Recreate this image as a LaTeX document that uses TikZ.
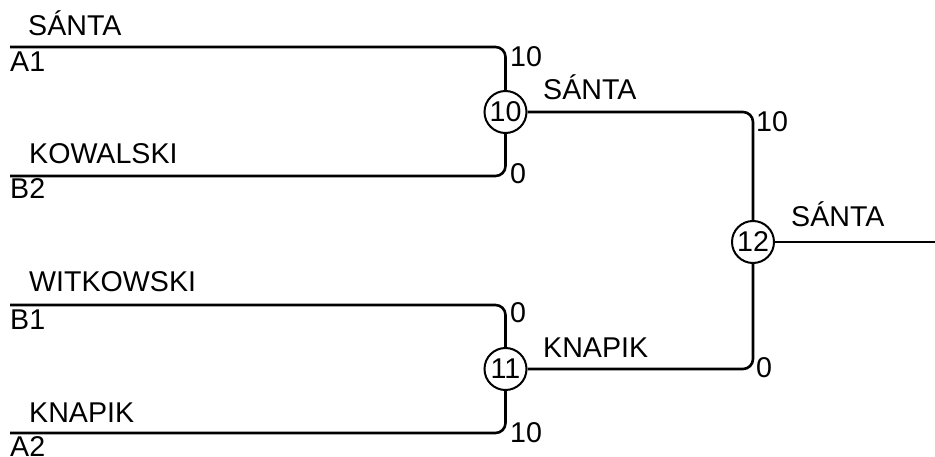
\documentclass[tikz,border=0pt]{standalone}
\usepackage{fontspec}
\setmainfont{Liberation Sans}
\begin{document}
\begin{tikzpicture}[x=1pt,y=-1pt,
  wire/.style={line width=2.6pt,rounded corners=10pt},
  lbl/.style={anchor=base west,inner sep=0pt,font=\fontsize{28.6}{33}\selectfont},
  match/.style={circle,draw,line width=2pt,minimum size=42pt,inner sep=0pt,fill=white,font=\fontsize{28.6}{33}\selectfont}]
\useasboundingbox (0,0) rectangle (935,457);
% match circles
\node[match] (c10) at (505.5,112) {10};
\node[match] (c11) at (505.5,369) {11};
\node[match] (c12) at (753,242) {12};
% line start points
\coordinate (a1) at (10,47);
\coordinate (b2) at (10,176);
\coordinate (b1) at (10,305);
\coordinate (a2) at (10,433);
\coordinate (out) at (935,242);
% wires
\draw[wire] (a1) -| (c10.north);
\draw[wire] (b2) -| (c10.south);
\draw[wire] (b1) -| (c11.north);
\draw[wire] (a2) -| (c11.south);
\draw[wire] (c10.east) -| (c12.north);
\draw[wire] (c11.east) -| (c12.south);
\draw[wire] (c12.east) -- (out);
% player names
\node[lbl] (n1) at (28,36) {SÁNTA};
\node[lbl] (n2) at (29,164) {KOWALSKI};
\node[lbl] (n3) at (29,292) {WITKOWSKI};
\node[lbl] (n4) at (29,422) {KNAPIK};
\node[lbl] (s1) at (10,72) {A1};
\node[lbl] (s2) at (10,199) {B2};
\node[lbl] (s3) at (10,329) {B1};
\node[lbl] (s4) at (10,456) {A2};
% scores
\node[lbl] (p1) at (510,67) {10};
\node[lbl] (p2) at (510,184) {0};
\node[lbl] (p3) at (510,323) {0};
\node[lbl] (p4) at (510,442) {10};
\node[lbl] (p5) at (756,132) {10};
\node[lbl] (p6) at (756,377) {0};
% winners
\node[lbl] (w1) at (543,100) {SÁNTA};
\node[lbl] (w2) at (543,357) {KNAPIK};
\node[lbl] (w3) at (791,227) {SÁNTA};
\end{tikzpicture}
\end{document}
